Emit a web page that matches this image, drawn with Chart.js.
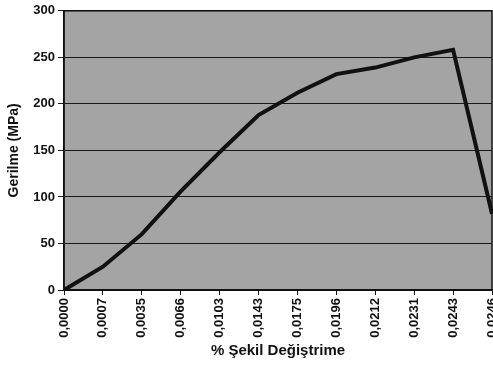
<!DOCTYPE html>
<html>
<head>
<meta charset="utf-8">
<script src="https://cdn.jsdelivr.net/npm/chart.js@4/dist/chart.umd.min.js"></script>
<style>
  html, body { margin: 0; padding: 0; background: #ffffff; }
  #wrap { width: 493px; height: 370px; position: relative; }
</style>
</head>
<body>
<div id="wrap"><canvas id="c" width="493" height="370"></canvas></div>
<script>
const categories = ['0,0000','0,0007','0,0035','0,0066','0,0103','0,0143','0,0175','0,0196','0,0212','0,0231','0,0243','0,0246'];
const stress = [0, 25, 60, 106, 148, 188, 212, 232, 239, 250, 258, 82];
const yTicks = [0, 50, 100, 150, 200, 250, 300];

const plotBg = {
  id: 'plotBg',
  beforeDraw(chart) {
    const {ctx, chartArea: a} = chart;
    ctx.save();
    ctx.fillStyle = '#a4a4a4';
    ctx.fillRect(a.left, a.top, a.right - a.left, a.bottom - a.top);
    ctx.restore();
  },
  afterDatasetsDraw(chart) {
    const {ctx, chartArea: a} = chart;
    ctx.save();
    ctx.strokeStyle = '#111';
    ctx.lineWidth = 1.5;
    ctx.strokeRect(a.left, a.top, a.right - a.left, a.bottom - a.top);
    ctx.restore();
  }
};

new Chart(document.getElementById('c'), {
  type: 'line',
  data: {
    labels: categories,
    datasets: [{
      data: stress,
      borderColor: '#111111',
      borderWidth: 4,
      pointRadius: 0,
      tension: 0,
      fill: false
    }]
  },
  options: {
    responsive: false,
    animation: false,
    devicePixelRatio: 1,
    layout: { padding: { top: 10, right: 1, bottom: 0, left: 0 } },
    plugins: { legend: { display: false }, tooltip: { enabled: false } },
    scales: {
      x: {
        offset: false,
        grid: { drawOnChartArea: false, drawTicks: true, tickLength: 5, color: '#111' },
        border: { display: true, color: '#111', width: 1.5 },
        ticks: {
          autoSkip: false, minRotation: 90, maxRotation: 90, padding: 3,
          color: '#111', font: { family: 'Liberation Sans, Arial', size: 13, weight: 'bold' }
        },
        title: {
          display: true, text: '% Şekil Değiştrime', color: '#111',
          font: { family: 'Liberation Sans, Arial', size: 15, weight: 'bold' },
          padding: { top: 0, bottom: 10 }
        },
        afterFit(scale) { scale.height = 80; scale.paddingLeft = 0; scale.paddingRight = 0; }
      },
      y: {
        min: 0, max: 300,
        afterBuildTicks(scale) { scale.ticks = yTicks.map(v => ({ value: v })); },
        grid: { color: '#1a1a1a', lineWidth: 1, tickLength: 6, drawTicks: true },
        border: { display: true, color: '#111', width: 1.5 },
        ticks: {
          padding: 3, color: '#111',
          font: { family: 'Liberation Sans, Arial', size: 13, weight: 'bold' }
        },
        title: {
          display: true, text: 'Gerilme (MPa)', color: '#111',
          font: { family: 'Liberation Sans, Arial', size: 14, weight: 'bold' },
          padding: { top: 6, bottom: 0 }
        },
        afterFit(scale) { scale.width = 64; }
      }
    }
  },
  plugins: [plotBg]
});
</script>
</body>
</html>
